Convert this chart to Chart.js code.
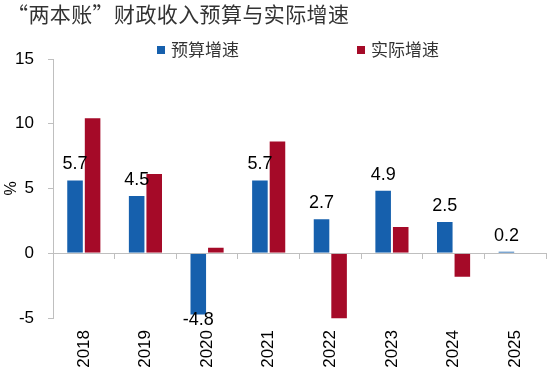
<!DOCTYPE html>
<html lang="zh-CN">
<head>
    <meta charset="UTF-8">
    <title>两本账财政收入预算与实际增速</title>
    <script src="https://cdn.jsdelivr.net/npm/chart.js"></script>
    <style>
        body {
            margin: 0;
            padding: 0;
            background: #fff;
        }

        .wrap {
            position: relative;
            width: 550px;
            height: 374px;
        }

        .title {
            position: absolute;
            left: 7px;
            top: -2px;
            font-family: "Noto Sans CJK SC", sans-serif;
            font-size: 21px;
            letter-spacing: 0.4px;
            color: #333;
            white-space: nowrap;
        }

        .legend-item {
            position: absolute;
            top: 36px;
            font-family: "Noto Sans CJK SC", sans-serif;
            font-size: 17px;
            color: #333;
            white-space: nowrap;
        }

        .legend-item span {
            display: inline-block;
            width: 8px;
            height: 8px;
            margin-right: 6px;
            vertical-align: 2px;
        }

        canvas {
            position: absolute;
            left: 0;
            top: 0;
        }
    </style>
</head>
<body>

    <div class="wrap">
        <canvas id="chart" width="550" height="374"></canvas>
        <div class="title">“两本账”财政收入预算与实际增速</div>
        <div class="legend-item" style="left:157px"><span style="background:#1660ad"></span>预算增速</div>
        <div class="legend-item" style="left:357px"><span style="background:#a50a28"></span>实际增速</div>
    </div>

    <script>
        // data
        const years = ['2018', '2019', '2020', '2021', '2022', '2023', '2024', '2025'];
        const budgetGrowth = [5.7, 4.5, -4.8, 5.7, 2.7, 4.9, 2.5, 0.2];
        const actualGrowth = [10.5, 6.2, 0.5, 8.7, -5.1, 2.1, -1.9, null];
        const yTicks = [-5, 0, 5, 10, 15];

        const axisGray = '#bfbfbf';

        // number labels above (or below) the budget bars
        const valueLabels = {
            id: 'valueLabels',
            afterDatasetsDraw(chart) {
                const ctx = chart.ctx;
                const meta = chart.getDatasetMeta(0);
                ctx.save();
                ctx.font = '18px "Liberation Sans", Arial, sans-serif';
                ctx.fillStyle = '#000';
                ctx.textAlign = 'center';
                ctx.textBaseline = 'alphabetic';
                meta.data.forEach(function(bar, i) {
                    const v = budgetGrowth[i];
                    const y = v >= 0 ? bar.y - 10 : bar.y + 10;
                    ctx.fillText(String(v), bar.x, y);
                });
                ctx.restore();
            }
        };

        const ctx = document.getElementById('chart').getContext('2d');
        new Chart(ctx, {
            type: 'bar',
            data: {
                labels: years,
                datasets: [{
                    label: '预算增速',
                    data: budgetGrowth,
                    backgroundColor: '#1660ad',
                    borderColor: 'rgba(255,255,255,0.45)',
                    borderWidth: 1,
                    categoryPercentage: 0.57,
                    barPercentage: 1.0,
                    xAxisID: 'x'
                }, {
                    label: '实际增速',
                    data: actualGrowth,
                    backgroundColor: '#a50a28',
                    borderColor: 'rgba(255,255,255,0.45)',
                    borderWidth: 1,
                    categoryPercentage: 0.57,
                    barPercentage: 1.0,
                    xAxisID: 'x',
                    clip: false
                }]
            },
            options: {
                responsive: false,
                animation: false,
                layout: {
                    padding: { top: 59, right: 4, bottom: 6, left: 0 }
                },
                plugins: {
                    legend: { display: false },
                    tooltip: { enabled: false }
                },
                scales: {
                    x: {
                        type: 'category',
                        position: { y: 0 },
                        offset: true,
                        border: { color: axisGray, width: 1 },
                        grid: {
                            offset: true,
                            drawOnChartArea: false,
                            drawTicks: true,
                            tickLength: 5,
                            color: axisGray
                        },
                        ticks: { display: false }
                    },
                    x2: {
                        type: 'category',
                        position: 'bottom',
                        offset: true,
                        border: { display: false },
                        grid: { display: false, drawTicks: false },
                        afterFit: function(scale) {
                            scale.height = 50;
                        },
                        ticks: {
                            color: '#000',
                            font: { family: '"Liberation Sans", Arial, sans-serif', size: 17 },
                            minRotation: 90,
                            maxRotation: 90,
                            padding: 12,
                            autoSkip: false
                        }
                    },
                    y: {
                        min: -5,
                        max: 15,
                        afterBuildTicks: function(scale) {
                            scale.ticks = yTicks.map(function(v) { return { value: v }; });
                        },
                        afterFit: function(scale) {
                            scale.width = 53;
                        },
                        border: { color: axisGray, width: 1 },
                        grid: {
                            drawOnChartArea: false,
                            tickLength: 5,
                            color: axisGray
                        },
                        ticks: {
                            color: '#000',
                            font: { family: '"Liberation Sans", Arial, sans-serif', size: 17 },
                            padding: 14
                        },
                        title: {
                            display: true,
                            text: '%',
                            color: '#000',
                            font: { family: '"Liberation Sans", Arial, sans-serif', size: 16 },
                            padding: { top: 2, bottom: 0 }
                        }
                    }
                }
            },
            plugins: [valueLabels]
        });
    </script>

</body>
</html>
